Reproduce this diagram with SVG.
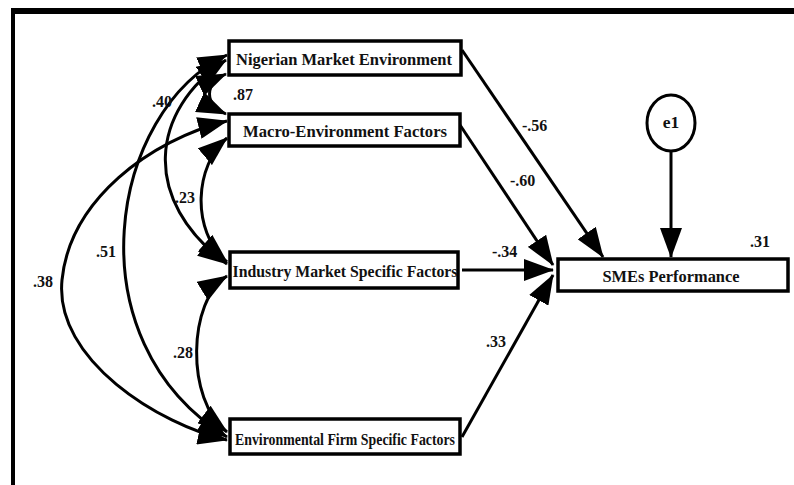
<svg xmlns="http://www.w3.org/2000/svg" width="794" height="485" viewBox="0 0 794 485">
  <style>
    .box { fill: #fff; stroke: #000; stroke-width: 3.5; }
    .name { font-family: "Liberation Serif", "Times New Roman", serif; font-weight: bold; font-size: 17.5px; fill: #111; text-anchor: middle; }
    .val { font-family: "Liberation Serif", "Times New Roman", serif; font-weight: bold; font-size: 16px; fill: #111; }
    .cov { fill: none; stroke: #000; stroke-width: 3; marker-start: url(#head); marker-end: url(#head); }
    .path { fill: none; stroke: #000; stroke-width: 3; marker-end: url(#head); }
  </style>
  <defs>
    <marker id="head" viewBox="0 0 30 22" markerWidth="30" markerHeight="22" refX="29" refY="11" orient="auto-start-reverse" markerUnits="userSpaceOnUse">
      <path d="M0,0 L30,11 L0,22 z" fill="#000"/>
    </marker>
  </defs>

  <rect width="794" height="485" fill="#fff"/>

  <!-- frame -->
  <g id="frame">
    <rect x="11" y="8" width="783" height="6" fill="#000"/>
    <rect x="11" y="8" width="4" height="477" fill="#000"/>
  </g>

  <!-- connectors: covariances on the left, regression paths on the right -->
  <g id="connectors">
    <path class="cov" d="M226,74 C204,84 204,104 226,114"/>
    <path class="cov" d="M226,60 C150,110 140,200 227,264"/>
    <path class="cov" d="M227,55 C110,110 70,340 227,437"/>
    <path class="cov" d="M227,121 C150,140 70,200 62,280 S160,425 227,440"/>
    <path class="cov" d="M227,138 C195,165 190,230 227,262"/>
    <path class="cov" d="M227,276 C188,300 185,400 227,432"/>

    <path class="path" d="M462,50 L603,257"/>
    <path class="path" d="M460,125 L553,265"/>
    <path class="path" d="M462,270 L553,270"/>
    <path class="path" d="M462,437 L553,275"/>
    <path class="path" d="M671,152 L671,257"/>
  </g>

  <!-- connector values -->
  <g id="values">
    <text class="val" x="233" y="100">.87</text>
    <text class="val" x="152" y="107">.40</text>
    <text class="val" x="175" y="203">.23</text>
    <text class="val" x="96" y="257">.51</text>
    <text class="val" x="33" y="287">.38</text>
    <text class="val" x="173" y="358">.28</text>
    <text class="val" x="522" y="131">-.56</text>
    <text class="val" x="510" y="186">-.60</text>
    <text class="val" x="492" y="257">-.34</text>
    <text class="val" x="486" y="347">.33</text>
  </g>

  <g id="nigerian-market-environment">
    <rect class="box" x="229" y="41" width="232" height="34"/>
    <text class="name" x="344" y="65" textLength="216" lengthAdjust="spacingAndGlyphs">Nigerian Market Environment</text>
  </g>

  <g id="macro-environment-factors">
    <rect class="box" x="229" y="114" width="231" height="32"/>
    <text class="name" x="345" y="137" textLength="204" lengthAdjust="spacingAndGlyphs">Macro-Environment Factors</text>
  </g>

  <g id="industry-market-specific-factors">
    <rect class="box" x="230" y="252" width="228" height="36"/>
    <text class="name" x="345" y="277" textLength="225" lengthAdjust="spacingAndGlyphs">Industry Market Specific Factors</text>
  </g>

  <g id="environmental-firm-specific-factors">
    <rect class="box" x="230" y="419" width="230" height="35"/>
    <text class="name" x="345" y="445" textLength="220" lengthAdjust="spacingAndGlyphs">Environmental Firm Specific Factors</text>
  </g>

  <g id="smes-performance">
    <rect class="box" x="558" y="259" width="230" height="32"/>
    <text class="name" x="671" y="282" textLength="137" lengthAdjust="spacingAndGlyphs">SMEs Performance</text>
    <text class="val" x="750" y="247">.31</text>
  </g>

  <g id="e1">
    <ellipse cx="671" cy="123" rx="24" ry="28" fill="#fff" stroke="#000" stroke-width="3"/>
    <text class="name" x="671" y="128">e1</text>
  </g>
</svg>
